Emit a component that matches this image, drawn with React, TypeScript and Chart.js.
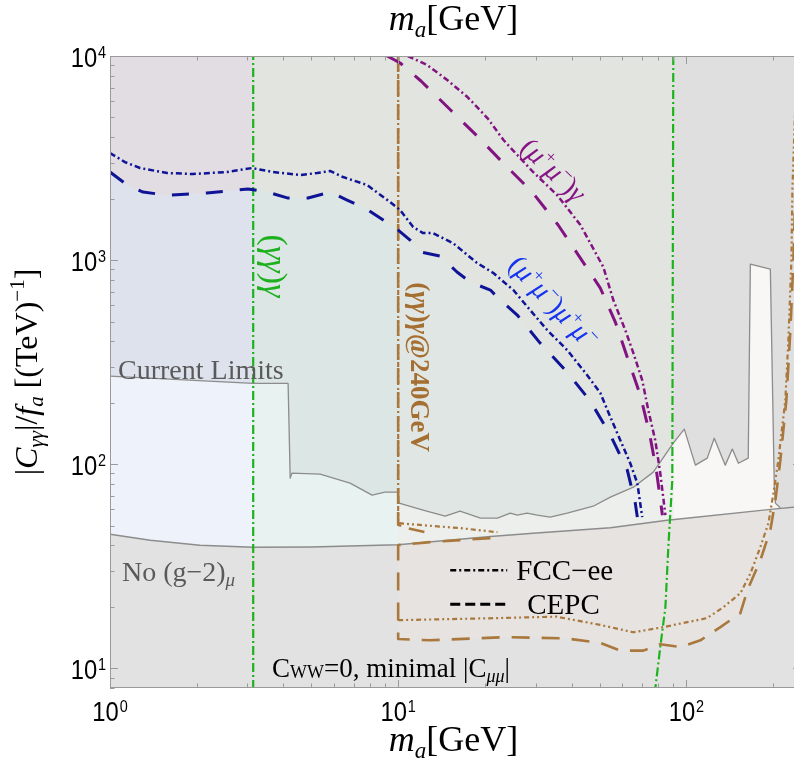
import React, { useEffect, useRef } from "react";
import { Chart, registerables } from "chart.js";
Chart.register(...registerables);

// ---------- axes ----------
const X_MIN = 1;
const X_MAX = 250;
const Y_MIN = 8;
const Y_MAX = 10000;
const xMajorTicks = [1, 10, 100];
const xTickExponents = ["0", "1", "2"];
const xMinorTicks = [2, 3, 4, 5, 6, 7, 8, 9, 20, 30, 40, 50, 60, 70, 80, 90, 200];
const yMajorTicks = [10, 100, 1000, 10000];
const yTickExponents = ["1", "2", "3", "4"];
const yMinorTicks = [8, 9, 20, 30, 40, 50, 60, 70, 80, 90, 200, 300, 400, 500, 600, 700, 800, 900, 2000, 3000, 4000, 5000, 6000, 7000, 8000, 9000];

// ---------- band edges (GeV) ----------
const greenLeftMass = 3.14;
const brownEdgeMass = 10;
const greenRightMass = 90.1;

// ---------- current limits ----------
const clMass = [1, 3.14, 4.15, 4.22, 4.28, 5.36, 6.81, 8.12, 9.0, 10, 10.08, 12.2, 14.56, 16.4, 19.3, 22.1, 24.5, 25.9, 28, 30.4, 33.7, 38.6, 47.5, 54.5, 65.5, 76.8, 90.1, 98.4, 107.5, 118.2, 125, 136.5, 144.4, 151.6, 164, 166.8, 195.7, 202, 203.8, 212];
const clCoupling = [270, 249, 249, 85.4, 90.4, 89.3, 80.7, 70.5, 72.9, 72.9, 64.4, 59.5, 55.6, 58.9, 54.4, 54.4, 57.5, 56.2, 57.5, 56.2, 55.0, 57.5, 62.2, 68.9, 77.1, 91.4, 126.7, 148.4, 98.9, 107, 134, 98.9, 118.5, 101, 107, 955, 903, 77.1, 64.4, 61.0];

// ---------- no (g-2) ----------
const g2Mass = [1, 1.38, 2.05, 3.14, 5, 10, 20.9, 29.4, 54.5, 85.9, 200, 250];
const g2Coupling = [45.4, 42.4, 40.1, 39.2, 39.3, 40.3, 44.2, 45.9, 48.8, 53.1, 60.2, 62.0];

// ---------- (mu+mu-)mu+mu- ----------
const mmmmFccMass = [1, 1.127, 1.271, 1.577, 1.94, 2.55, 3.11, 3.68, 4.57, 5.23, 5.8, 6.44, 7.8, 9.38, 10.16, 11.27, 12.2, 13.2, 15.5, 18.8, 21.4, 25.1, 28.7, 32.9, 38.6, 45.3, 50.3, 54.5, 59, 63.9, 67.6, 70.3];
const mmmmFccCoupling = [3346, 3022, 2825, 2671, 2640, 2701, 2825, 2701, 2610, 2671, 2733, 2552, 2333, 1924, 1758, 1452, 1356, 1356, 1211, 967, 864, 713, 569, 454, 362, 273, 223, 170, 131, 101, 80.7, 55];
const mmmmCepcMass = [1, 1.146, 1.302, 1.577, 1.82, 2.17, 2.55, 3.01, 3.14, 3.51, 4.15, 4.87, 5.8, 6.65, 7.69, 8.66, 10, 11, 12.2, 14, 16, 17.8, 20.9, 22.6, 25.9, 31.1, 38.6, 46.4, 54.5, 62.4, 66.5, 67.6];
const mmmmCepcCoupling = [2701, 2333, 2154, 2080, 2100, 2130, 2180, 2228, 2210, 2154, 2013, 2013, 2154, 1968, 1798, 1606, 1403, 1253, 1090, 1046, 874, 780, 713, 637, 538, 392, 282, 204, 139, 93.5, 64.4, 55];

// ---------- (mu+mu-)gamma ----------
const mmgFccMass = [10.8, 12.6, 14.8, 17.4, 20.4, 23.2, 25.9, 29.4, 35.6, 42.9, 51.5, 55.8, 61.4, 65.5, 70.3, 73.8, 78, 81.2, 84.6];
const mmgFccCoupling = [10000, 9034, 7627, 6295, 4966, 3875, 3272, 2701, 2083, 1485, 925, 637, 454, 350, 258, 184, 131, 90.4, 56.2];
const mmgCepcMass = [9.16, 10.16, 12, 15.2, 18.8, 23.5, 29.2, 35.9, 42.2, 50.3, 56.7, 62.9, 69.2, 74.4, 78.7, 82.6];
const mmgCepcCoupling = [10000, 9240, 7543, 5437, 4054, 2923, 2154, 1485, 1058, 729, 497, 323, 218, 143, 93.5, 56.2];

// ---------- (gamma gamma)gamma @ 240 GeV ----------
const gggFccUpperMass = [10, 10, 12.2, 16.4, 22.1];
const gggFccUpperCoupling = [10000, 51.4, 50.2, 48.6, 46.4];
const gggFccLowerMass = [10, 22, 35.4, 50.3, 65.5, 83.2, 118, 134.4, 154, 167, 180.6, 192.7, 200.6, 208.6, 220.6, 226, 231.6, 233.4, 239.1];
const gggFccLowerCoupling = [17.2, 17.6, 17.9, 16.3, 15.0, 15.9, 17.6, 19.9, 23.3, 29.2, 39.2, 51.4, 72.1, 104.6, 206, 405, 1000, 2203, 6083];
const gggCepcUpperMass = [10, 10, 10.75, 12.4];
const gggCepcUpperCoupling = [10000, 50.5, 48.6, 46.4];
const gggCepcLowerMass = [20.9, 12.9, 10, 10, 12.9, 23.5, 38.3, 50.3, 59, 70.9, 81.2, 95.3, 111.9, 131.3, 154, 162.9, 180.6, 195.7, 203.8, 212, 222.4, 229.7, 235.3, 239.1, 244.8];
const gggCepcLowerCoupling = [43.4, 41.5, 40.1, 13.9, 13.7, 14.2, 14.0, 13.3, 12.2, 12.2, 13.1, 12.7, 13.7, 15.9, 18.6, 24.1, 33.8, 47.5, 66.6, 104.6, 206, 454, 1000, 2203, 6083];

// ---------- (gamma gamma)gamma at Z pole ----------
const gggZLeftMass = [3.14, 3.14];
const gggZLeftCoupling = [7.9, 10000];
const gggZRightMass = [90.1, 89.4, 86.6, 84.6, 81.2, 78.0];
const gggZRightCoupling = [10000, 83.6, 39.2, 19.9, 12.7, 7.9];

// ---------- label anchors (data coords) ----------
const legendSampleMass = [15.16, 23.9];
const legendTextMass = [25.7, 28.05];
const legendCoupling = [30.2, 20.6];
const legendNames = ["FCC\u2212ee", "CEPC"];

type Pt = { x: number; y: number };
const P = (xs: number[], ys: number[]): Pt[] => xs.map((x, i) => ({ x, y: ys[i] }));
const FLOOR = 7;
const CEIL = 12000;
const LEFT = 0.9;
const RIGHT = 270;
const rect = (x0: number, x1: number): Pt[] => [
  { x: x0, y: FLOOR }, { x: x0, y: CEIL }, { x: x1, y: CEIL }, { x: x1, y: FLOOR },
];
const under = (pts: Pt[], x0: number, x1: number): Pt[] => {
  const s = pts.filter((p) => p.x >= x0 && p.x <= x1);
  return [{ x: s[0].x, y: FLOOR }, ...s, { x: s[s.length - 1].x, y: FLOOR }];
};

const SERIF = '"Liberation Serif","Times New Roman",serif';
const SANS = '"Liberation Sans",Arial,sans-serif';
const sf = (size: number, style = "") => `${style} ${size}px ${SERIF}`.trim();
type Seg = [string, string, number?];

function drawRich(ctx: CanvasRenderingContext2D, segs: Seg[], x: number, y: number, angleDeg: number, align: string, vshift: number, color: string) {
  ctx.save();
  ctx.translate(x, y);
  ctx.rotate((angleDeg * Math.PI) / 180);
  ctx.fillStyle = color;
  ctx.textAlign = "left";
  ctx.textBaseline = "alphabetic";
  let w = 0;
  for (const s of segs) { ctx.font = s[1]; w += ctx.measureText(s[0]).width; }
  let cx = align === "center" ? -w / 2 : align === "right" ? -w : 0;
  for (const s of segs) {
    ctx.font = s[1];
    ctx.fillText(s[0], cx, vshift + (s[2] || 0));
    cx += ctx.measureText(s[0]).width;
  }
  ctx.restore();
}

function drawPow(ctx: CanvasRenderingContext2D, exp: string, x: number, y: number, align: string) {
  const k = 0.85;
  ctx.save();
  ctx.fillStyle = "#000";
  ctx.textAlign = "left";
  ctx.textBaseline = "alphabetic";
  ctx.font = `28px ${SANS}`;
  const w10 = ctx.measureText("10").width;
  ctx.font = `17px ${SANS}`;
  const we = ctx.measureText(exp).width;
  const total = (w10 + we + 1) * k;
  const x0 = align === "center" ? x - total / 2 : x - total;
  ctx.translate(x0, y);
  ctx.scale(k, 1);
  ctx.font = `28px ${SANS}`;
  ctx.fillText("10", 0, 0);
  ctx.font = `17px ${SANS}`;
  ctx.fillText(exp, w10 + 1, -9);
  ctx.restore();
}

const decor = {
  id: "decor",
  afterDatasetsDraw(chart: any) {
    const ctx: CanvasRenderingContext2D = chart.ctx;
    const { left, right, top, bottom } = chart.chartArea;
    const xs = chart.scales.x;
    const ys = chart.scales.y;
    const X = (v: number) => xs.getPixelForValue(v);
    const Y = (v: number) => ys.getPixelForValue(v);
    ctx.save();
    // frame
    ctx.strokeStyle = "#9a9a9a";
    ctx.lineWidth = 1;
    ctx.setLineDash([]);
    ctx.strokeRect(left + 0.5, top + 0.5, right - left - 1, bottom - top - 1);
    const seg = (a: number, b: number, c: number, d: number) => { ctx.beginPath(); ctx.moveTo(a, b); ctx.lineTo(c, d); ctx.stroke(); };
    for (const v of xMajorTicks) { const p = Math.round(X(v)) + 0.5; seg(p, bottom, p, bottom - 8); seg(p, top, p, top + 8); }
    for (const v of xMinorTicks) { const p = Math.round(X(v)) + 0.5; seg(p, bottom, p, bottom - 4.5); seg(p, top, p, top + 4.5); }
    for (const v of yMajorTicks) { const p = Math.round(Y(v)) + 0.5; seg(left, p, left + 8, p); seg(right, p, right - 8, p); }
    for (const v of yMinorTicks) { const p = Math.round(Y(v)) + 0.5; seg(left, p, left + 4.5, p); seg(right, p, right - 4.5, p); }
    // tick labels
    xMajorTicks.forEach((v, i) => drawPow(ctx, xTickExponents[i], X(v), bottom + 33, "center"));
    yMajorTicks.forEach((v, i) => drawPow(ctx, yTickExponents[i], left - 4, Y(v) + 11, "right"));
    // axis titles
    const cxm = (left + Math.min(right, 794)) / 2 + 0;
    const mTitle: Seg[] = [["m", sf(36, "italic")], ["a", sf(23, "italic"), 7], ["[GeV]", sf(36)]];
    drawRich(ctx, mTitle, (left + right) / 2 - 2, 30, 0, "center", 0, "#000");
    drawRich(ctx, mTitle, (left + right) / 2 - 2, 751, 0, "center", 0, "#000");
    const yTitle: Seg[] = [
      ["|", sf(32)], ["C", sf(32, "italic")], ["\u03b3\u03b3", sf(21, "italic"), 6], ["|", sf(32)], ["/", sf(32)],
      ["f", sf(32, "italic")], ["a", sf(21, "italic"), 6], [" [(TeV)", sf(32)], ["\u22121", sf(21), -13], ["]", sf(32)],
    ];
    drawRich(ctx, yTitle, 26, (top + bottom) / 2, -90, "center", 11, "#000");

    // in-plot labels
    const grey = "#5a5a5a";
    drawRich(ctx, [["Current Limits", sf(28)]], X(1.066), Y(262), 0, "left", 0, grey);
    drawRich(ctx, [["No (g\u22122)", sf(28)], ["\u03bc", sf(19, "italic"), 5]], X(1.1), Y(26.7), 0, "left", 0, grey);
    drawRich(ctx, [["(", sf(34)], ["\u03b3\u03b3", sf(34, "italic")], [")", sf(34)], ["\u03b3", sf(34, "italic")]], X(3.74), Y(935), 90, "center", 11, "#1fb01f");
    drawRich(ctx, [["(", sf(27, "bold")], ["\u03b3\u03b3", sf(27, "bold italic")], [")", sf(27, "bold")], ["\u03b3", sf(27, "bold italic")], ["@240GeV", sf(27, "bold")]], X(11.9), Y(299), 90, "center", 9, "#a56f32");
    const mm: Seg[] = [["(", sf(28)], ["\u03bc", sf(28, "italic")], ["+", sf(18), -11], ["\u03bc", sf(28, "italic")], ["\u2212", sf(18), -11], [")", sf(28)]];
    drawRich(ctx, [...mm, ["\u03b3", sf(28, "italic")]], X(34.5), Y(2762), 44, "center", 9, "#861486");
    drawRich(ctx, [...mm, ["\u03bc", sf(28, "italic")], ["+", sf(18), -11], ["\u03bc", sf(28, "italic")], ["\u2212", sf(18), -11]], X(34.5), Y(622), 47, "center", 9, "#1432f0");
    drawRich(ctx, [["C", sf(27)], ["WW", sf(18), 1], ["=0, minimal |C", sf(27)], ["\u03bc\u03bc", sf(18, "italic"), 5], ["|", sf(27)]], X(3.65), Y(9.1), 0, "left", 0, "#000");

    // legend
    const dashes = [[6, 3, 2, 3], [10, 5]];
    const widths = [2.5, 3];
    legendNames.forEach((name, i) => {
      const py = Y(legendCoupling[i]);
      ctx.save();
      ctx.strokeStyle = "#000";
      ctx.lineWidth = widths[i];
      ctx.setLineDash(dashes[i]);
      seg(X(legendSampleMass[0]), py, X(legendSampleMass[1]), py);
      ctx.restore();
      drawRich(ctx, [[name, sf(29)]], X(legendTextMass[i]), py, 0, "left", 10, "#000");
    });
    ctx.restore();
  },
};

export default function App() {
  const ref = useRef<HTMLCanvasElement | null>(null);
  useEffect(() => {
    if (!ref.current) return;
    const cl = P(clMass, clCoupling);
    const g2 = P(g2Mass, g2Coupling);
    const mmmmCepc = P(mmmmCepcMass, mmmmCepcCoupling);
    const cepcLower = P(gggCepcLowerMass, gggCepcLowerCoupling);
    const brownPoly = [
      ...g2.filter((p) => p.x >= brownEdgeMass && p.x <= 200),
      ...cepcLower.filter((p, i) => i >= 3 && p.y < 60).reverse(),
    ];
    const fill = (data: Pt[], color: string, order: number) => ({
      data, showLine: true, fill: "shape", backgroundColor: color, borderColor: "transparent",
      borderWidth: 0, pointRadius: 0, tension: 0, order,
    });
    const line = (data: Pt[], color: string, width: number, dash: number[], order: number) => ({
      data, showLine: true, fill: false, borderColor: color, borderWidth: width, borderDash: dash,
      pointRadius: 0, tension: 0, order, borderCapStyle: "butt", borderJoinStyle: "round",
    });
    const blue = "#0f1496";
    const purple = "#821482";
    const brown = "#aa783c";
    const green = "#1db31d";
    const lineGrey = "#8c8c8c";
    const FCC = [6, 3, 2, 3];
    const datasets: any[] = [
      fill(rect(LEFT, RIGHT), "#e2e4df", 120),
      fill(rect(LEFT, greenLeftMass), "#e2dce3", 119),
      fill(rect(greenRightMass, RIGHT), "#dfdfdf", 118),
      fill([{ x: LEFT, y: FLOOR }, { x: LEFT, y: mmmmCepcCoupling[0] }, ...under(mmmmCepc, X_MIN, greenLeftMass).slice(1)], "#dde2ec", 117),
      fill(under(mmmmCepc, greenLeftMass, brownEdgeMass), "#dce7e5", 116),
      fill(under(mmmmCepc, brownEdgeMass, 100), "#e0e6e3", 115),
      fill([{ x: LEFT, y: FLOOR }, { x: LEFT, y: clCoupling[0] }, ...under(cl, X_MIN, greenLeftMass).slice(1)], "#eef2fb", 114),
      fill(under(cl, greenLeftMass, brownEdgeMass), "#e7f2f1", 113),
      fill(under(cl, brownEdgeMass, greenRightMass), "#ecefec", 112),
      fill(under(cl, greenRightMass, RIGHT), "#f9f7f6", 111),
      fill([{ x: LEFT, y: FLOOR }, { x: LEFT, y: g2Coupling[0] }, ...g2, { x: RIGHT, y: 63 }, { x: RIGHT, y: FLOOR }], "#e2e2e2", 110),
      fill(brownPoly, "#e6e3e1", 109),
      line(cl, lineGrey, 1.3, [], 20),
      line(g2, lineGrey, 1.5, [], 19),
      line(P(gggZLeftMass, gggZLeftCoupling), green, 2.2, [9, 3, 2, 3], 18),
      line(P(gggZRightMass, gggZRightCoupling), green, 2.2, [9, 3, 2, 3], 17),
      line(P(gggCepcUpperMass, gggCepcUpperCoupling), brown, 2.6, [16, 8], 16),
      line(cepcLower, brown, 2.6, [18, 12], 15),
      line(P(gggFccUpperMass, gggFccUpperCoupling), brown, 2.2, [5, 3, 2, 3, 2, 3], 14),
      line(P(gggFccLowerMass, gggFccLowerCoupling), brown, 2.2, [5, 3, 2, 3, 2, 3], 13),
      line(mmmmCepc, blue, 3, [17, 17], 12),
      line(P(mmmmFccMass, mmmmFccCoupling), blue, 2.5, FCC, 11),
      line(P(mmgCepcMass, mmgCepcCoupling), purple, 3, [18, 16], 10),
      line(P(mmgFccMass, mmgFccCoupling), purple, 2.5, FCC, 9),
    ];
    const chart = new Chart(ref.current, {
      type: "scatter",
      data: { datasets },
      options: {
        animation: false,
        responsive: false,
        maintainAspectRatio: false,
        events: [],
        layout: { padding: { left: 110, top: 56, right: 1, bottom: 80 } },
        plugins: { legend: { display: false }, tooltip: { enabled: false }, filler: { propagate: false } },
        scales: {
          x: { type: "logarithmic", min: X_MIN, max: X_MAX, display: false },
          y: { type: "logarithmic", min: Y_MIN, max: Y_MAX, display: false },
        },
      },
      plugins: [decor],
    } as any);
    return () => chart.destroy();
  }, []);
  return (
    <div style={{ position: "fixed", left: 0, top: 0, width: 794, height: 768, overflow: "hidden", background: "#fff" }}>
      <canvas ref={ref} width={802} height={768} style={{ width: 802, height: 768, display: "block" }} />
    </div>
  );
}
